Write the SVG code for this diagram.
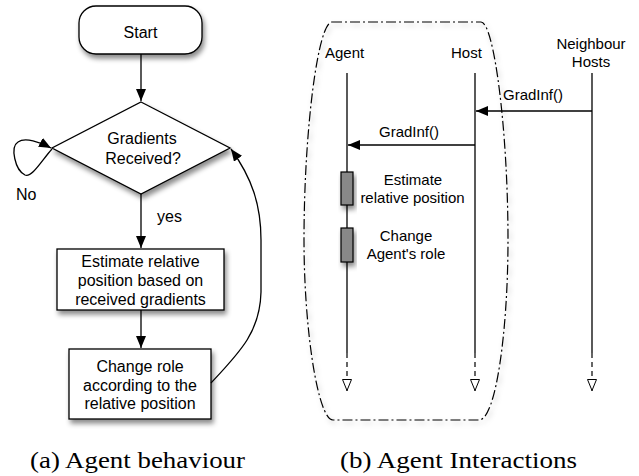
<svg xmlns="http://www.w3.org/2000/svg" width="639" height="476" viewBox="0 0 639 476">
  <style>
    .shape { fill: #fff; stroke: #000; stroke-width: 1.3; }
    .line { fill: none; stroke: #000; stroke-width: 1.3; }
    .lbl { font-family: "Liberation Sans", Arial, sans-serif; font-size: 16px; fill: #000; }
    .lbl15 { font-family: "Liberation Sans", Arial, sans-serif; font-size: 15px; fill: #000; }
    .cap { font-family: "Liberation Serif", "Times New Roman", serif; font-size: 23px; fill: #000; }
    .mid { text-anchor: middle; }
    .bar { fill: #888; stroke: #000; stroke-width: 1.2; }
    .dashend { fill: none; stroke: #000; stroke-width: 1.2; stroke-dasharray: 5 4; }
  </style>
  <defs>
    <filter id="shadow" x="-20%" y="-20%" width="150%" height="160%">
      <feDropShadow dx="2" dy="4" stdDeviation="2.5" flood-color="#000" flood-opacity="0.45"/>
    </filter>
    <filter id="softShadow" x="-10%" y="-10%" width="130%" height="130%">
      <feDropShadow dx="2" dy="3" stdDeviation="2.5" flood-color="#000" flood-opacity="0.25"/>
    </filter>
    <marker id="arrow" viewBox="0 0 12 10" refX="12" refY="5" markerWidth="12" markerHeight="10" markerUnits="userSpaceOnUse" orient="auto">
      <path d="M0,0 L12,5 L0,10 Z" fill="#000"/>
    </marker>
    <marker id="openTri" viewBox="0 0 12 10" refX="12" refY="5" markerWidth="12" markerHeight="10" markerUnits="userSpaceOnUse" orient="auto">
      <path d="M0.5,0.5 L11.5,5 L0.5,9.5 Z" fill="#fff" stroke="#000" stroke-width="1"/>
    </marker>
  </defs>

  <!-- (a) flowchart -->
  <g id="start">
    <rect class="shape" x="79" y="6" width="123" height="48" rx="17" ry="17" filter="url(#shadow)"/>
    <text class="lbl mid" x="140.5" y="37.5">Start</text>
  </g>
  <g id="decision">
    <polygon class="shape" points="141,102 230,148 141,194 52,148" filter="url(#shadow)"/>
    <text class="lbl mid" x="142" y="143.5">Gradients</text>
    <text class="lbl mid" x="143" y="163.5">Received?</text>
  </g>
  <g id="estimate">
    <rect class="shape" x="57" y="249" width="167" height="61" filter="url(#shadow)"/>
    <text class="lbl mid" x="140.5" y="266.5">Estimate relative</text>
    <text class="lbl mid" x="140.5" y="285.5">position based on</text>
    <text class="lbl mid" x="140.5" y="304.5">received gradients</text>
  </g>
  <g id="change-role">
    <rect class="shape" x="69" y="349" width="142" height="70" filter="url(#shadow)"/>
    <text class="lbl mid" x="140" y="371.5">Change role</text>
    <text class="lbl mid" x="140" y="390.5">according to the</text>
    <text class="lbl mid" x="140" y="408.5">relative position</text>
  </g>

  <g id="flow-connectors">
    <line class="line" x1="141" y1="54" x2="141" y2="101" marker-end="url(#arrow)"/>
    <path class="line" d="M52,149 C42,160 32,178 25,175 C15,170 10,147 18,142 C25,137 40,142 51,148" marker-end="url(#arrow)"/>
    <line class="line" x1="141" y1="194" x2="141" y2="248" marker-end="url(#arrow)"/>
    <line class="line" x1="141" y1="310" x2="141" y2="348" marker-end="url(#arrow)"/>
    <path class="line" d="M211,383 C240,352 260,332 261,292 L261,240 C261,205 252,178 231,149" marker-end="url(#arrow)"/>
    <text class="lbl" x="16" y="200">No</text>
    <text class="lbl" x="157" y="222">yes</text>
  </g>

  <text class="cap" x="30" y="468" textLength="215" lengthAdjust="spacingAndGlyphs">(a) Agent behaviour</text>

  <!-- (b) sequence diagram -->
  <g id="boundary">
    <path d="M332,22 L481,22 C494,22 508,130 508,240 C508,330 496,420 479,420 L333,420 C318,420 304,330 304,240 C304,130 318,22 332,22 Z"
          fill="none" stroke="#000" stroke-width="1.2" stroke-dasharray="10 3 2 3" filter="url(#softShadow)"/>
  </g>

  <g id="agent">
    <text class="lbl15" x="325" y="58">Agent</text>
    <line class="line" x1="347" y1="73" x2="347" y2="353"/>
    <line class="dashend" x1="347" y1="353" x2="347" y2="391" marker-end="url(#openTri)"/>
  </g>
  <g id="host">
    <text class="lbl15" x="451" y="58">Host</text>
    <line class="line" x1="475" y1="73" x2="475" y2="353"/>
    <line class="dashend" x1="475" y1="353" x2="475" y2="391" marker-end="url(#openTri)"/>
  </g>
  <g id="neighbour-hosts">
    <text class="lbl15 mid" x="591" y="49">Neighbour</text>
    <text class="lbl15 mid" x="591" y="67">Hosts</text>
    <line class="line" x1="592" y1="73" x2="592" y2="353"/>
    <line class="dashend" x1="592" y1="353" x2="592" y2="391" marker-end="url(#openTri)"/>
  </g>

  <g id="estimate-activation">
    <rect class="bar" x="341" y="172" width="12" height="33" filter="url(#shadow)"/>
    <text class="lbl15 mid" x="413" y="185">Estimate</text>
    <text class="lbl15 mid" x="412.5" y="203">relative position</text>
  </g>
  <g id="change-activation">
    <rect class="bar" x="341" y="228" width="12" height="34" filter="url(#shadow)"/>
    <text class="lbl15 mid" x="406" y="241">Change</text>
    <text class="lbl15 mid" x="406" y="259">Agent's role</text>
  </g>

  <g id="messages">
    <line class="line" x1="592" y1="111" x2="476" y2="111" marker-end="url(#arrow)"/>
    <text class="lbl15" x="503" y="100">GradInf()</text>
    <line class="line" x1="475" y1="145" x2="348" y2="145" marker-end="url(#arrow)"/>
    <text class="lbl15" x="379" y="137">GradInf()</text>
  </g>

  <text class="cap" x="340" y="468" textLength="237" lengthAdjust="spacingAndGlyphs">(b) Agent Interactions</text>
</svg>
